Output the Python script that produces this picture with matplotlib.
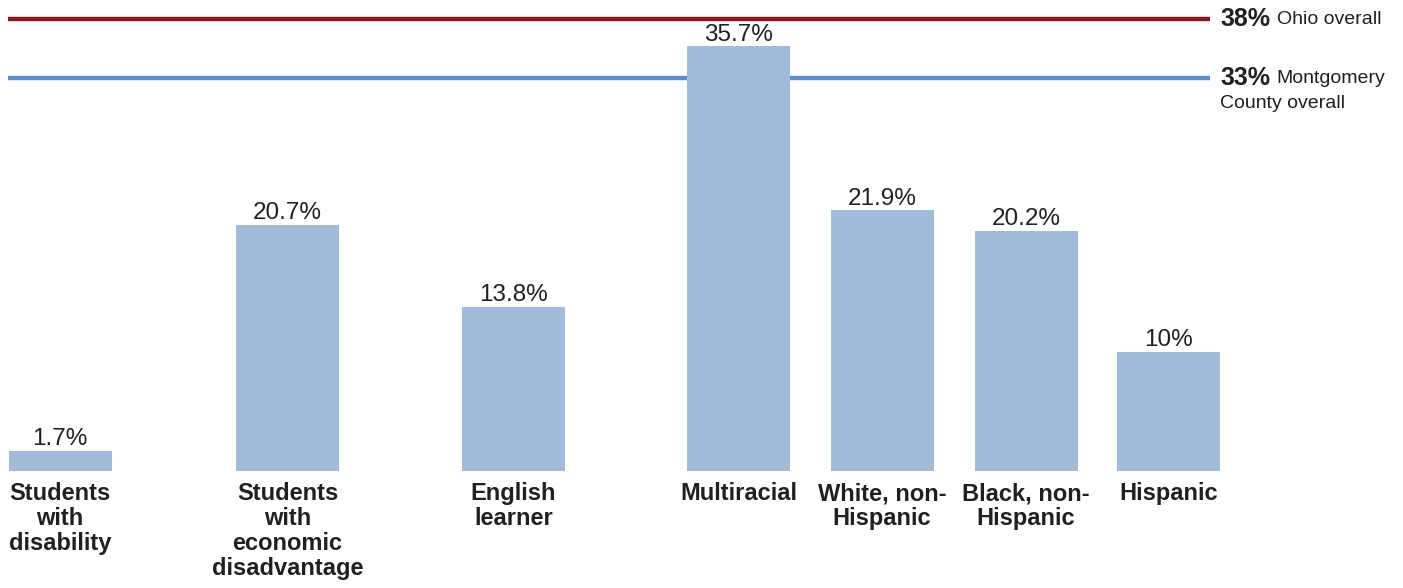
import matplotlib.pyplot as plt

## Share of students meeting the benchmark, by group

groups = ['Students\nwith\ndisability', 'Students\nwith\neconomic\ndisadvantage', 'English\nlearner',
          'Multiracial', 'White, non-\nHispanic', 'Black, non-\nHispanic', 'Hispanic']
values = [1.7, 20.7, 13.8, 35.7, 21.9, 20.2, 10]
value_labels = ['1.7%', '20.7%', '13.8%', '35.7%', '21.9%', '20.2%', '10%']

ohio_overall = 38
county_overall = 33

## Layout: uneven gaps between the three groupings of bars

x_pos = [60, 287.5, 513.5, 738.5, 882, 1026, 1168.5]
bar_width = 103

bar_color = '#a3bbdb'
ohio_color = '#8b1a1f'
county_color = '#5b8fcc'
text_color = '#231f20'
font = 'Liberation Sans'

fig = plt.figure(figsize=(14.03, 5.88), dpi=100)
ax = fig.add_axes([0, 117 / 588, 1, 471 / 588])
ax.set_xlim(0, 1403)
ax.set_ylim(0, 471 / 11.9)
ax.axis('off')

## Reference lines sit behind the bars
ax.plot([8, 1210], [ohio_overall, ohio_overall], color=ohio_color, lw=3.2, zorder=1, solid_capstyle='butt')
ax.plot([8, 1210], [county_overall, county_overall], color=county_color, lw=3.2, zorder=1, solid_capstyle='butt')

ax.bar(x_pos, values, width=bar_width, color=bar_color, zorder=2)

for x, v, lab in zip(x_pos, values, value_labels):
    ax.annotate(lab, (x, v), xytext=(0, 4), textcoords='offset points', ha='center', va='baseline',
                fontsize=17.5, family=font, color=text_color)

for x, g in zip(x_pos, groups):
    ax.annotate(g, (x, 0), xytext=(0, -8), textcoords='offset points', ha='center', va='top',
                fontsize=17, family=font, fontweight='bold', color=text_color,
                linespacing=1.1, annotation_clip=False)

## Labels at the right end of the reference lines
ax.annotate('38%', (1210, ohio_overall), xytext=(7.5, 0), textcoords='offset points', va='center',
            fontsize=18, family=font, fontweight='bold', color=text_color, annotation_clip=False)
ax.annotate('Ohio overall', (1210, ohio_overall), xytext=(48, -0.5), textcoords='offset points', va='center',
            fontsize=14, family=font, color=text_color, annotation_clip=False)
ax.annotate('33%', (1210, county_overall), xytext=(7.5, 0), textcoords='offset points', va='center',
            fontsize=18, family=font, fontweight='bold', color=text_color, annotation_clip=False)
ax.annotate('Montgomery', (1210, county_overall), xytext=(48, -0.5), textcoords='offset points', va='center',
            fontsize=14, family=font, color=text_color, annotation_clip=False)
ax.annotate('County overall', (1210, county_overall), xytext=(7.5, -18.5), textcoords='offset points', va='center',
            fontsize=14, family=font, color=text_color, annotation_clip=False)

fig.savefig('out.png', dpi=100)
